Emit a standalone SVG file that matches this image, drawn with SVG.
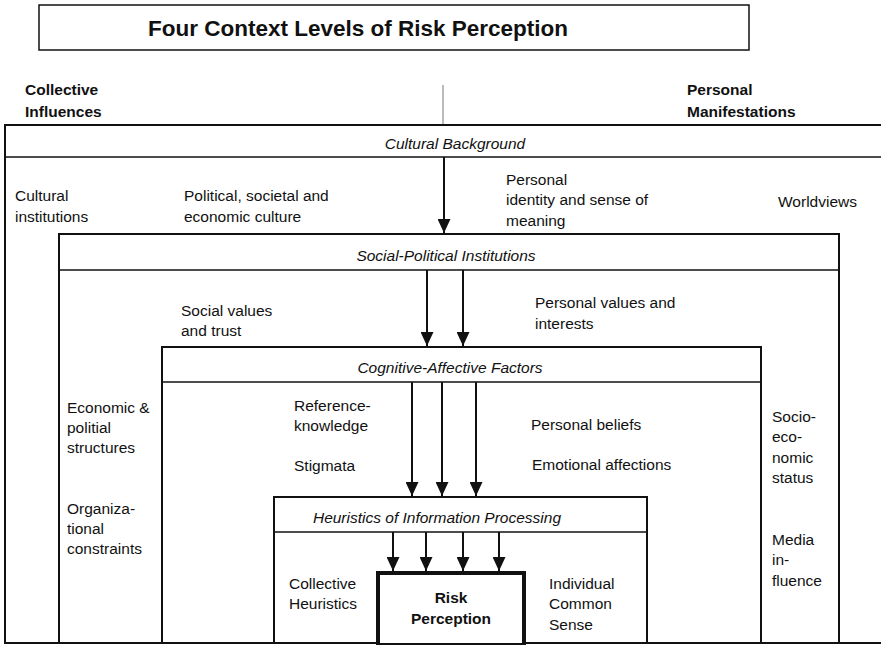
<svg xmlns="http://www.w3.org/2000/svg" width="881" height="645" viewBox="0 0 881 645">
<style>
text{font-family:"Liberation Sans",Arial,sans-serif;fill:#111;font-size:15.5px}
.b{font-weight:bold}
.i{font-style:italic}
.box{fill:none;stroke:#111;stroke-width:2}
.hdr{stroke:#111;stroke-width:1.5}
.arr{stroke:#111;stroke-width:2;fill:none;marker-end:url(#ah)}
</style>
<defs>
<marker id="ah" viewBox="0 0 14 13" refX="14" refY="6.5" markerWidth="14" markerHeight="13" markerUnits="userSpaceOnUse" orient="auto">
<path d="M0,0 L14,6.5 L0,13 Z" fill="#111"/>
</marker>
</defs>
<rect width="881" height="645" fill="#fff"/>
<g id="title">
<rect x="39" y="5" width="710" height="45" fill="#fff" stroke="#111" stroke-width="1.5"/>
<text x="358" y="36" text-anchor="middle" class="b" style="font-size:22.5px">Four Context Levels of Risk Perception</text>
</g>
<g id="axis">
<line x1="443" y1="85" x2="443" y2="125" stroke="#777" stroke-width="1"/>
<text x="25" y="95" class="b">Collective</text>
<text x="25" y="117" class="b">Influences</text>
<text x="687" y="95" class="b">Personal</text>
<text x="687" y="117" class="b">Manifestations</text>
</g>
<g id="cultural">
<rect x="5" y="125" width="882" height="518" class="box"/>
<line x1="5" y1="157" x2="881" y2="157" class="hdr"/>
<text x="455" y="149" text-anchor="middle" class="i">Cultural Background</text>
<text x="15" y="201">Cultural</text>
<text x="15" y="222">institutions</text>
<text x="184" y="201">Political, societal and</text>
<text x="184" y="222">economic culture</text>
<text x="506" y="185">Personal</text>
<text x="506" y="205">identity and sense of</text>
<text x="506" y="226">meaning</text>
<text x="778" y="207">Worldviews</text>
</g>
<g id="social">
<rect x="59" y="234" width="780" height="409" class="box"/>
<line x1="59" y1="270" x2="839" y2="270" class="hdr"/>
<text x="446" y="261" text-anchor="middle" class="i">Social-Political Institutions</text>
<text x="181" y="316">Social values</text>
<text x="181" y="336">and trust</text>
<text x="535" y="308">Personal values and</text>
<text x="535" y="329">interests</text>
<text x="67" y="413">Economic &amp;</text>
<text x="67" y="433">politial</text>
<text x="67" y="453">structures</text>
<text x="67" y="514">Organiza-</text>
<text x="67" y="534">tional</text>
<text x="67" y="554">constraints</text>
<text x="772" y="422">Socio-</text>
<text x="772" y="442">eco-</text>
<text x="772" y="463">nomic</text>
<text x="772" y="483">status</text>
<text x="772" y="545">Media</text>
<text x="772" y="565">in-</text>
<text x="772" y="586">fluence</text>
</g>
<g id="cognitive">
<rect x="162" y="347" width="599" height="296" class="box"/>
<line x1="162" y1="382" x2="761" y2="382" class="hdr"/>
<text x="450" y="373" text-anchor="middle" class="i">Cognitive-Affective Factors</text>
<text x="294" y="411">Reference-</text>
<text x="294" y="431">knowledge</text>
<text x="294" y="471">Stigmata</text>
<text x="531" y="430">Personal beliefs</text>
<text x="532" y="470">Emotional affections</text>
</g>
<g id="heuristics">
<rect x="274" y="497" width="373" height="146" class="box"/>
<line x1="274" y1="532" x2="647" y2="532" class="hdr"/>
<text x="437" y="523" text-anchor="middle" class="i">Heuristics of Information Processing</text>
<text x="289" y="589">Collective</text>
<text x="289" y="609">Heuristics</text>
<text x="549" y="589">Individual</text>
<text x="549" y="609">Common</text>
<text x="549" y="630">Sense</text>
</g>
<g id="risk">
<rect x="378" y="573" width="146" height="72" fill="#fff" stroke="#111" stroke-width="4"/>
<text x="451" y="603" text-anchor="middle" class="b">Risk</text>
<text x="451" y="624" text-anchor="middle" class="b">Perception</text>
</g>
<g id="connectors">
<line x1="444" y1="157" x2="444" y2="233" class="arr"/>
<line x1="427" y1="270" x2="427" y2="346" class="arr"/>
<line x1="463" y1="270" x2="463" y2="346" class="arr"/>
<line x1="412" y1="382" x2="412" y2="496" class="arr"/>
<line x1="442" y1="382" x2="442" y2="496" class="arr"/>
<line x1="476" y1="382" x2="476" y2="496" class="arr"/>
<line x1="393" y1="532" x2="393" y2="571" class="arr"/>
<line x1="426" y1="532" x2="426" y2="571" class="arr"/>
<line x1="463" y1="532" x2="463" y2="571" class="arr"/>
<line x1="499" y1="532" x2="499" y2="571" class="arr"/>
</g>
</svg>
